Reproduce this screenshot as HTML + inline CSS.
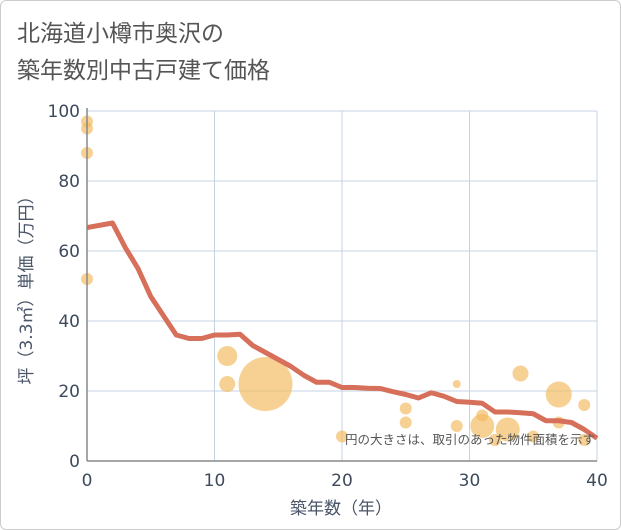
<!DOCTYPE html>
<html><head><meta charset="utf-8"><style>
body{margin:0;background:#fff;font-family:"DejaVu Sans","Noto Sans CJK JP",sans-serif}
.wrap{position:relative;width:619px;height:528px;border:1px solid #ccc;border-radius:6px;overflow:hidden}
</style></head><body>
<div class="wrap">
<svg id="c" width="619" height="528" style="font-family:'DejaVu Sans','Noto Sans CJK JP',sans-serif">
<text x="16" y="40" font-size="23" fill="#555">北海道小樽市奥沢の</text>
<text x="16" y="77" font-size="23" fill="#555">築年数別中古戸建て価格</text>
<g id="grid"></g><g id="bub"></g><g id="ln"></g><g id="ax"></g>
<text x="594" y="443" font-size="12.5" fill="#555" text-anchor="end">円の大きさは、取引のあった物件面積を示す</text>
<text x="340" y="513" font-size="17" fill="#4a5568" text-anchor="middle">築年数（年）</text>
<text transform="translate(31,285) rotate(-90)" font-size="17" fill="#4a5568" text-anchor="middle">坪（3.3㎡）単価（万円）</text>
</svg></div>
<script>
const xTicks=[0,10,20,30,40];
const yTicks=[0,20,40,60,80,100];
const lineYears=[0,2,3,4,5,6,7,8,9,10,11,12,13,14,15,16,17,18,19,20,21,22,23,24,25,26,27,28,29,30,31,32,33,34,35,36,37,38,39,40];
const lineValues=[66.7,68,61,55,47,41.5,36,35,35,36,36,36.2,33,31,29,27,24.5,22.5,22.5,21,21,20.8,20.7,19.8,19,18,19.5,18.5,17,16.8,16.5,14,14,13.8,13.5,11.5,11.5,11,9,6.5];
const bubbleYears=[0,0,0,0,11,11,14,20,25,25,29,29,31,31,32,33,34,35,37,37,39,39];
const bubbleValues=[97,95,88,52,30,22,22,7,15,11,22,10,13,10,6,9,25,7,19,11,16,6];
const bubbleSizes=[6,6,6,6,10,8,27,6,6,6,4,6,6,12,6,12,8,6,13,6,6,6];
const X=v=>86+v*12.75, Y=v=>460-v*3.5;
const NS="http://www.w3.org/2000/svg";
function mk(p,t,a){const e=document.createElementNS(NS,t);for(const k in a)e.setAttribute(k,a[k]);document.getElementById(p).appendChild(e);return e;}
xTicks.forEach(t=>{
const l=mk('grid','line',{x1:X(t),x2:X(t),y1:Y(100),y2:Y(0),stroke:'#c5d3e0'});


const tx=mk('ax','text',{x:X(t),y:485,'font-size':17,fill:'#3d4a5c','text-anchor':'middle'});tx.textContent=t;


});
yTicks.forEach(t=>{
const l=mk('grid','line',{x1:X(0),x2:X(40),y1:Y(t),y2:Y(t),stroke:'#c5d3e0'});


const tx=mk('ax','text',{x:79,y:Y(t)+6,'font-size':17,fill:'#3d4a5c','text-anchor':'end'});tx.textContent=t;


});
const ya=mk('ax','line',{x1:X(0),x2:X(0),y1:Y(100)-3,y2:Y(0),stroke:'#888','stroke-width':1.5});


const xa=mk('ax','line',{x1:X(0),x2:X(40),y1:Y(0),y2:Y(0),stroke:'#888','stroke-width':1.5});


bubbleYears.forEach((yr,i)=>{
const c=mk('bub','circle',{cx:X(yr),cy:Y(bubbleValues[i]),r:bubbleSizes[i],fill:'#f2b95a','fill-opacity':0.65});


});
const pl=mk('ln','polyline',{points:lineYears.map((y,i)=>X(y)+','+Y(lineValues[i])).join(' '),fill:'none',stroke:'#d6705a','stroke-width':5,'stroke-linejoin':'round'});


</script>
</body></html>
